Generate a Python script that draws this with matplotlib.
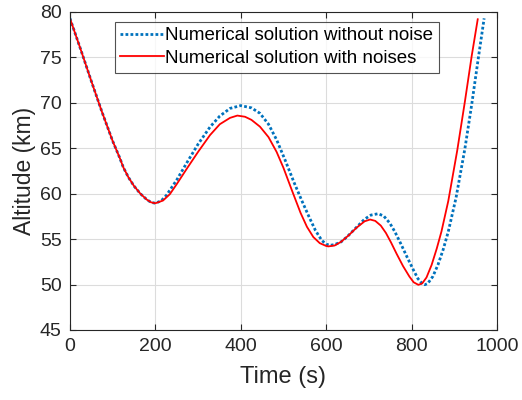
import numpy as np
import matplotlib
matplotlib.use("Agg")
import matplotlib.pyplot as plt

plt.rcParams['font.family'] = ['Liberation Sans', 'DejaVu Sans']

# numerical solution without noise
t_clean = [0, 25, 50, 75, 100, 117, 125, 137, 150, 165, 180, 190, 200, 214,
           226, 250, 275, 300, 328, 351, 375, 400, 425, 445, 465, 484, 504,
           525, 543, 560, 575, 590, 600, 609, 620, 635, 650, 671, 690, 705,
           722, 735, 749, 761, 775, 790, 805, 815, 825, 831, 838, 850, 862,
           874, 886, 904, 925, 941, 956, 970]
h_clean = [79.3, 75.9, 72.4, 69.0, 65.8, 63.9, 62.9, 61.8, 60.85, 60.0, 59.35,
           59.05, 58.95, 59.23, 59.83, 61.51, 63.51, 65.45, 67.34, 68.55,
           69.39, 69.7, 69.45, 68.85, 67.65, 65.94, 63.69, 61.22, 59.24, 57.45,
           55.95, 54.85, 54.45, 54.32, 54.4, 54.7, 55.3, 56.3, 57.2, 57.65,
           57.8, 57.54, 56.77, 55.81, 54.48, 52.98, 51.55, 50.65, 50.1, 49.98,
           50.12, 50.9, 52.19, 53.84, 55.82, 59.51, 64.97, 69.85, 74.8, 79.3]

# numerical solution with noises
t_noisy = [0, 25, 50, 75, 100, 117, 125, 137, 150, 165, 180, 190, 200, 218,
           234, 250, 275, 300, 328, 351, 375, 392, 410, 425, 445, 465, 484,
           500, 520, 540, 555, 570, 585, 600, 605, 620, 635, 652, 671, 690,
           703, 715, 728, 740, 752, 765, 780, 795, 805, 816, 825, 835, 847,
           859, 870, 886, 907, 925, 941, 955]
h_noisy = [79.3, 75.9, 72.4, 69.0, 65.8, 63.9, 62.9, 61.8, 60.85, 60.0, 59.35,
           59.05, 58.95, 59.25, 59.95, 61.05, 62.85, 64.6, 66.45, 67.65, 68.35,
           68.6, 68.47, 68.13, 67.38, 66.23, 64.6, 62.85, 60.35, 57.9, 56.36,
           55.23, 54.56, 54.25, 54.2, 54.3, 54.71, 55.39, 56.25, 56.96, 57.16,
           57.01, 56.49, 55.68, 54.63, 53.39, 52.04, 50.88, 50.25, 49.97,
           50.13, 50.78, 52.16, 53.96, 55.83, 59.19, 64.76, 70.16, 75.2, 79.2]

fig = plt.figure(figsize=(5.22, 4.0), dpi=100)
ax = fig.add_axes([0.134, 0.175, 0.818, 0.795])

ax.plot(t_clean, h_clean, color='#0072BD', lw=2.0, linestyle=(0, (1, 0.8)),
        label='Numerical solution without noise')
ax.plot(t_noisy, h_noisy, '-', color='#FF0000', lw=1.3,
        label='Numerical solution with noises')

ax.set_xlim(0, 1000)
ax.set_ylim(45, 80)
ax.set_xticks(np.arange(0, 1001, 200))
ax.set_yticks(np.arange(45, 81, 5))
ax.grid(True, color='#dcdcdc', lw=0.8)
ax.tick_params(direction='in', top=True, right=True, labelsize=14,
               colors='#262626', length=4, pad=6)
for s in ax.spines.values():
    s.set_color('#262626')
    s.set_linewidth(0.8)

ax.set_xlabel('Time (s)', fontsize=17, color='#262626', labelpad=8)
ax.set_ylabel('Altitude (km)', fontsize=16.5, color='#262626', labelpad=3)

leg = ax.legend(loc='upper left', bbox_to_anchor=(0.105, 0.97), fontsize=13.5,
                frameon=True, fancybox=False, edgecolor='#262626',
                handlelength=2.3, handletextpad=0.1, borderpad=0.3,
                labelspacing=0.3, borderaxespad=0)
leg.get_frame().set_linewidth(0.8)

fig.savefig('out.png', dpi=100)
